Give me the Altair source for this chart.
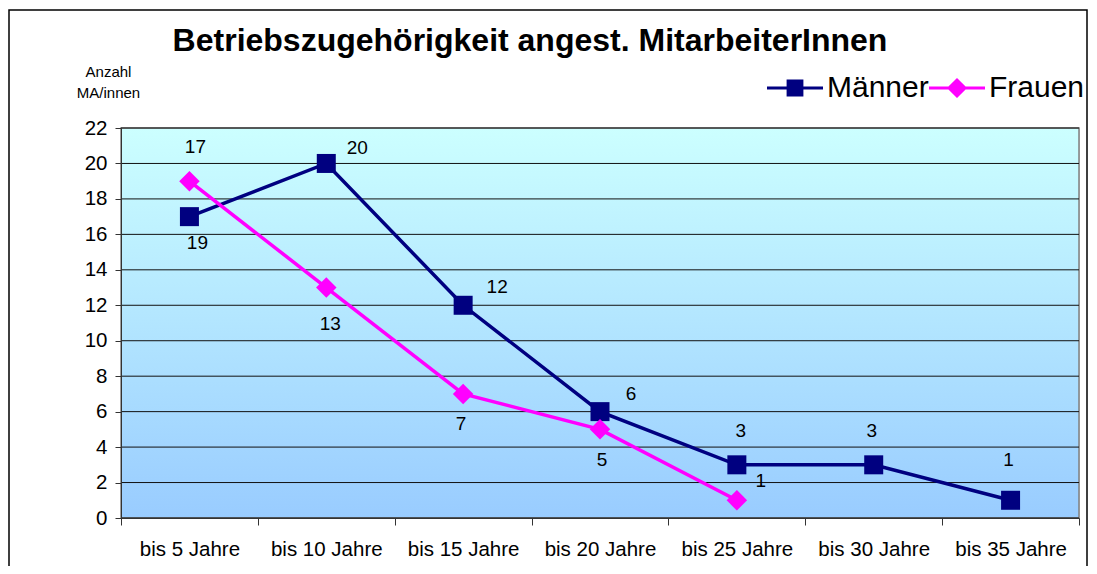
import altair as alt
import pandas as pd

categories = ["bis 5 Jahre", "bis 10 Jahre", "bis 15 Jahre", "bis 20 Jahre",
              "bis 25 Jahre", "bis 30 Jahre", "bis 35 Jahre"]
maenner = [17, 20, 12, 6, 3, 3, 1]
frauen = [19, 13, 7, 5, 1]
series_names = ["Männer", "Frauen"]
series_colors = ["#000080", "#FF00FF"]
y_ticks = list(range(0, 23, 2))

# label texts as shown in the chart (per point of each series)
maenner_labels = ["17", "20", "12", "6", "3", "3", "1"]
frauen_labels = ["19", "13", "7", "5", "1"]
# pixel offsets of the data labels relative to their points (styling)
maenner_label_offsets = [(6, -70), (31, -15), (34, -18), (31, -18), (4, -34), (-2, -34), (-2, -40)]
frauen_label_offsets = [(8, 62), (4, 36), (-2, 30), (2, 31), (24, -19)]

W, H = 958, 390
FONT = "Liberation Sans"

rows = []
for c, v, t in zip(categories, maenner, maenner_labels):
    rows.append({"cat": c, "value": v, "series": "Männer", "label": t})
for c, v, t in zip(categories, frauen, frauen_labels):
    rows.append({"cat": c, "value": v, "series": "Frauen", "label": t})
df = pd.DataFrame(rows)

x_enc = alt.X("cat:N", sort=categories, scale=alt.Scale(domain=categories, paddingInner=0, paddingOuter=0),
              axis=alt.Axis(title=None, labelAngle=0, labelFont=FONT, labelFontSize=20.5, labelColor="black",
                            tickBand="extent", tickSize=7, tickColor="#333333", domainColor="#333333",
                            labelPadding=14, grid=False, zindex=1))
y_enc = alt.Y("value:Q", scale=alt.Scale(domain=[0, 22], nice=False, zero=True),
              axis=alt.Axis(values=y_ticks, title=["Anzahl", "MA/innen"], titleAngle=0,
                            titleFont=FONT, titleFontSize=15, titleFontWeight="normal",
                            titleAlign="center", titleBaseline="alphabetic",
                            titleX=-13, titleY=-52, titleLineHeight=21, titleColor="black",
                            labelFont=FONT, labelFontSize=20.5, labelColor="black", labelPadding=8,
                            labelOverlap=False,
                            tickSize=6, tickColor="#333333", domainColor="#333333",
                            grid=False, zindex=1))

base = alt.Chart(df)

# gradient background of plot area
bg = alt.Chart(pd.DataFrame({"a": [0]})).mark_rect(
    color=alt.Gradient(gradient="linear",
                       stops=[alt.GradientStop(color="#CCFFFF", offset=0),
                              alt.GradientStop(color="#99CCFF", offset=1)],
                       x1=0, x2=0, y1=0, y2=1),
    stroke="#808080", strokeWidth=1.5
).encode(x=alt.value(0), x2=alt.value(W), y=alt.value(0), y2=alt.value(H))

# horizontal gridlines (same field/axis as the data so the axis is shared)
grid = alt.Chart(pd.DataFrame({"value": y_ticks})).mark_rule(color="#111111", strokeWidth=1).encode(
    y=y_enc)

# outer frame of the whole chart
frame = alt.Chart(pd.DataFrame({"a": [0]})).mark_rect(
    fill=None, stroke="black", strokeWidth=1.5
).encode(x=alt.value(-112), x2=alt.value(966), y=alt.value(-118), y2=alt.value(470))

axis_layer = base.mark_point(opacity=0).encode(x=x_enc, y=y_enc)

layers = [bg, grid, frame, axis_layer]
shapes = {"Männer": "square", "Frauen": "diamond"}
sizes = {"Männer": 361, "Frauen": 420}
for name, col in zip(series_names, series_colors):
    sub = base.transform_filter(alt.datum.series == name)
    layers.append(sub.mark_line(color=col, strokeWidth=3.5).encode(x=x_enc, y=y_enc))
for name, col in zip(series_names, series_colors):
    sub = base.transform_filter(alt.datum.series == name)
    layers.append(sub.mark_point(shape=shapes[name], filled=True, color=col, opacity=1,
                                 size=sizes[name]).encode(x=x_enc, y=y_enc))

# data labels
for name, labs, offs, cats in [("Männer", maenner_labels, maenner_label_offsets, categories),
                               ("Frauen", frauen_labels, frauen_label_offsets, categories[:len(frauen)])]:
    for c, (dx, dy) in zip(cats, offs):
        sub = base.transform_filter((alt.datum.series == name) & (alt.datum.cat == c))
        layers.append(sub.mark_text(font=FONT, fontSize=19, color="black", dx=dx, dy=dy,
                                    align="center", baseline="middle").encode(
            x=x_enc, y=y_enc, text="label:N"))

# legend (line + marker symbols)
sq_path = "M-1,-0.055H1V0.055H-1Z M-0.3,-0.3H0.3V0.3H-0.3Z"
di_path = "M-1,-0.055H1V0.055H-1Z M0,-0.36L0.36,0L0,0.36L-0.36,0Z"
leg = alt.Legend(title=None, orient="none", direction="horizontal",
                 legendX=646, legendY=-68, symbolSize=3136,
                 symbolStrokeWidth=0, symbolOpacity=1,
                 labelFont=FONT, labelFontSize=30, labelColor="black",
                 labelOffset=4, columnPadding=0)
legend_layer = base.transform_filter(alt.datum.value < -100).mark_point(filled=True, opacity=1).encode(
    x=x_enc, y=y_enc,
    color=alt.Color("series:N", scale=alt.Scale(domain=series_names, range=series_colors), legend=leg),
    shape=alt.Shape("series:N", scale=alt.Scale(domain=series_names, range=[sq_path, di_path]), legend=leg),
)
layers.append(legend_layer)

chart = alt.layer(*layers).properties(
    width=W, height=H,
    title=alt.TitleParams("Betriebszugehörigkeit angest. MitarbeiterInnen", font=FONT, fontSize=32,
                          fontWeight="bold", color="black", anchor="middle", dx=-70, offset=0,
                          baseline="alphabetic", dy=74),
    autosize=alt.AutoSizeParams(type="none"),
    padding={"left": 113, "top": 120, "right": 10, "bottom": 48},
).configure_view(stroke=None).configure_axis(labelOverlap=False).configure(background="white")

chart.save("out.html", embed_options={"renderer": "svg", "actions": False})
